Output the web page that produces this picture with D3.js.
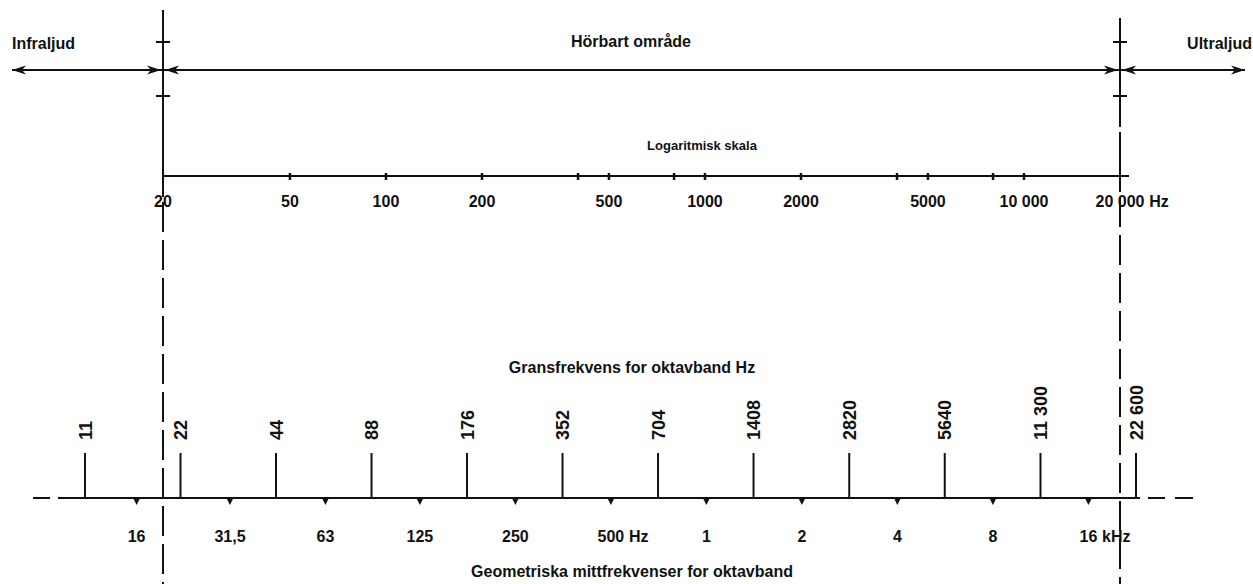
<!DOCTYPE html>
<html>
<head>
<meta charset="utf-8">
<script src="https://cdn.jsdelivr.net/npm/d3@7"></script>
<style>
  body { margin: 0; background: #fff; }
  text { font-family: 'Liberation Sans', Arial, sans-serif; font-weight: bold; fill: #111; }
</style>
</head>
<body>
<svg id="chart"></svg>
<script>
/* global d3 */

// range limits of hearing
var audible = [20, 20000]
var rangeNames = ['Infraljud', 'Hörbart område', 'Ultraljud']

// logarithmic scale ticks and labels
var logTicks = [20, 50, 100, 200, 400, 500, 800, 1000, 2000, 4000, 5000, 8000, 10000, 20000]
var logLabelValues = [20, 50, 100, 200, 500, 1000, 2000, 5000, 10000, 20000]
var logLabels = ['20', '50', '100', '200', '500', '1000', '2000', '5000', '10 000', '20 000']
var logUnits = ['', '', '', '', '', '', '', '', '', 'Hz']

// octave band limits
var bandEdges = [11, 22, 44, 88, 176, 352, 704, 1408, 2820, 5640, 11300, 22600]
var bandEdgeLabels = ['11', '22', '44', '88', '176', '352', '704', '1408', '2820', '5640', '11 300', '22 600']

// geometric mid frequencies
var midFreqs = [16, 31.5, 63, 125, 250, 500, 1000, 2000, 4000, 8000, 16000]
var midLabels = ['16', '31,5', '63', '125', '250', '500', '1', '2', '4', '8', '16']
var midUnits = ['', '', '', '', '', 'Hz', '', '', '', '', 'kHz']

;(function () {
  var W = 1253
  var H = 584
  var ink = '#111'

  var svg = d3.select('#chart').attr('width', W).attr('height', H)

  var x = d3.scaleLog().domain(audible).range([163, 1120])
  var xb = d3.scaleLog().domain([bandEdges[0], bandEdges[bandEdges.length - 1]]).range([85, 1136])

  var arrowY = 70
  var axisY = 176
  var baseY = 498

  function line (g, x1, y1, x2, y2, w) {
    return g.append('line')
      .attr('x1', x1).attr('y1', y1).attr('x2', x2).attr('y2', y2)
      .attr('stroke', ink).attr('stroke-width', w || 1.6)
  }

  function arrowHead (g, tip, y, dir) {
    var l = 14
    var h = 4.5
    g.append('path')
      .attr('d', `M${tip},${y}L${tip - dir * l},${y - h}L${tip - dir * (l - 4)},${y}L${tip - dir * l},${y + h}Z`)
      .attr('fill', ink)
  }

  // number centred on its position, unit appended after it
  function label (g, xpos, y, txt, unit, size) {
    var t = g.append('text')
      .attr('x', xpos).attr('y', y)
      .attr('text-anchor', 'middle')
      .style('font-size', size + 'px')
      .text(txt)
    if (unit) {
      var w = t.node().getComputedTextLength()
      g.append('text')
        .attr('x', xpos + w / 2 + size * 0.3).attr('y', y)
        .style('font-size', size + 'px')
        .text(unit)
    }
  }

  /*
      --------------------------------------
      Top part: ranges and log scale
  */
  var top = svg.append('g').classed('ranges', true)

  line(top, 12, arrowY, 1245, arrowY, 2)
  arrowHead(top, 12, arrowY, -1)
  arrowHead(top, 1245, arrowY, 1)
  audible.forEach(function (f) {
    var xx = x(f)
    arrowHead(top, xx - 2, arrowY, 1)
    arrowHead(top, xx + 2, arrowY, -1)
    ;[42, 96].forEach(function (yy) {
      line(top, xx - 7, yy, xx + 7, yy, 2)
    })
  })

  line(top, x(audible[0]), 10, x(audible[0]), 197, 2)
  line(top, x(audible[1]), 18, x(audible[1]), 127, 2)
  line(top, x(audible[1]), 132, x(audible[1]), 192, 2)

  top.append('text').attr('x', 12).attr('y', 49).style('font-size', '16px').text(rangeNames[0])
  top.append('text').attr('x', 631).attr('y', 47).attr('text-anchor', 'middle').style('font-size', '16px').text(rangeNames[1])
  top.append('text').attr('x', 1252).attr('y', 49).attr('text-anchor', 'end').style('font-size', '16px').text(rangeNames[2])

  var axis = svg.append('g').classed('log-axis', true)
  line(axis, x(audible[0]), axisY, x(audible[1]) + 9, axisY, 1.8)
  axis.selectAll('.tick')
    .data(logTicks.slice(1, -1))
    .enter().append('line')
    .classed('tick', true)
    .attr('x1', d => x(d)).attr('x2', d => x(d))
    .attr('y1', axisY - 3).attr('y2', axisY + 4)
    .attr('stroke', ink).attr('stroke-width', 2.5)

  axis.append('text').attr('x', 702).attr('y', 150)
    .attr('text-anchor', 'middle').style('font-size', '13px').text('Logaritmisk skala')

  logLabelValues.forEach(function (v, i) {
    label(axis, x(v), 207, logLabels[i], logUnits[i], 16)
  })

  /*
      --------------------------------------
      Dashed continuations of the audible limits
  */
  audible.forEach(function (f, i) {
    line(svg, x(f), i ? 197 : 202, x(f), H, 2)
      .attr('stroke-dasharray', '30 8')
  })

  /*
      --------------------------------------
      Octave bands
  */
  var bands = svg.append('g').classed('bands', true)

  bands.append('text').attr('x', 632).attr('y', 373)
    .attr('text-anchor', 'middle').style('font-size', '16px').text('Gransfrekvens for oktavband Hz')
  bands.append('text').attr('x', 632).attr('y', 577)
    .attr('text-anchor', 'middle').style('font-size', '16px').text('Geometriska mittfrekvenser for oktavband')

  var x0 = xb(bandEdges[0])
  var x1 = xb(bandEdges[bandEdges.length - 1])
  line(bands, x0 - 52, baseY, x0 - 35, baseY, 2)
  line(bands, x0 - 27, baseY, x1 + 4, baseY, 2)
  line(bands, x1 + 12, baseY, x1 + 29, baseY, 2)
  line(bands, x1 + 39, baseY, x1 + 57, baseY, 2)

  bands.selectAll('.edge')
    .data(bandEdges)
    .enter().append('line')
    .classed('edge', true)
    .attr('x1', d => xb(d)).attr('x2', d => xb(d))
    .attr('y1', baseY).attr('y2', baseY - 45)
    .attr('stroke', ink).attr('stroke-width', 2)

  bands.selectAll('.edge-label')
    .data(bandEdges)
    .enter().append('text')
    .classed('edge-label', true)
    .attr('transform', d => `translate(${xb(d) + 6.5},440) rotate(-90)`)
    .style('font-size', '18px')
    .text((d, i) => bandEdgeLabels[i])

  bands.selectAll('.mid')
    .data(midFreqs)
    .enter().append('path')
    .classed('mid', true)
    .attr('d', d => `M${xb(d) - 3.5},${baseY}L${xb(d) + 3.5},${baseY}L${xb(d)},${baseY + 7}Z`)
    .attr('fill', ink)

  midFreqs.forEach(function (f, i) {
    label(bands, xb(f), 542, midLabels[i], midUnits[i], 16)
  })
})()
</script>
</body>
</html>
